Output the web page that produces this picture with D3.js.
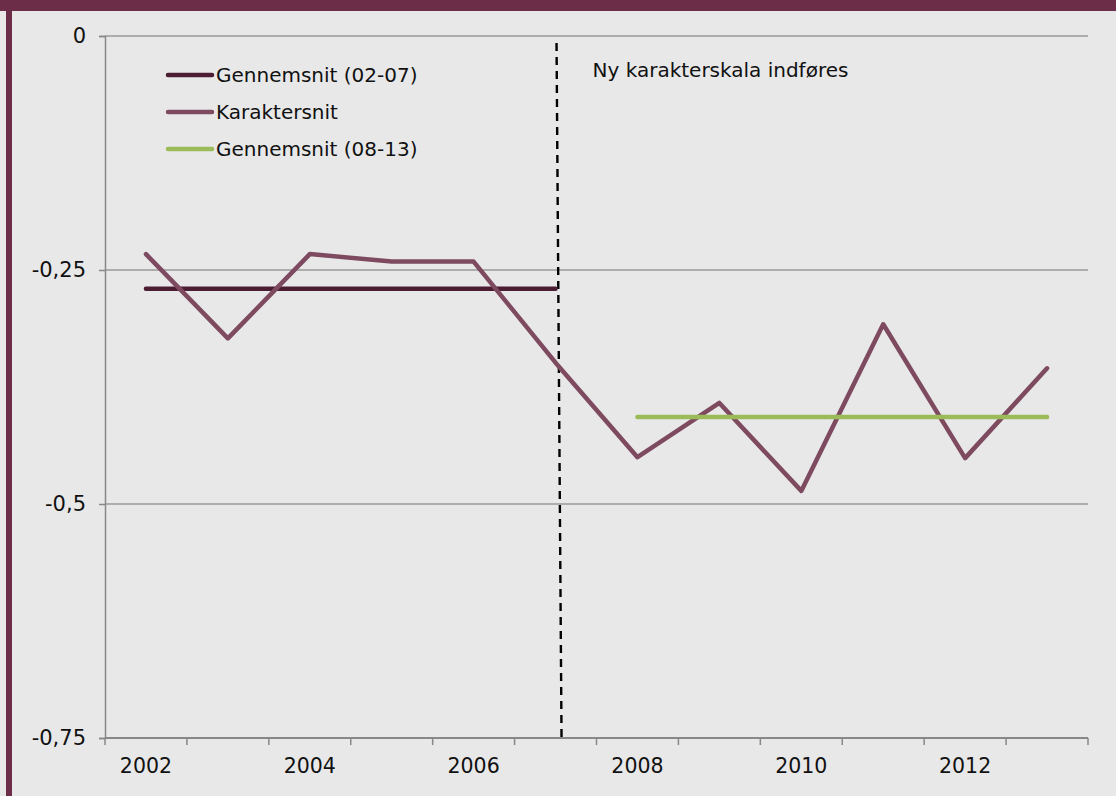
<!DOCTYPE html>
<html><head><meta charset="utf-8">
<script src="https://cdn.jsdelivr.net/npm/d3@7"></script>
<style>
html,body{margin:0;padding:0;background:#e8e8e8;}
svg{display:block;font-family:"DejaVu Sans",Verdana,sans-serif;}
</style></head>
<body><svg id="c" width="1116" height="796"></svg>
<script>
const years = [2002,2003,2004,2005,2006,2007,2008,2009,2010,2011,2012,2013];
const karaktersnit = [-0.233,-0.323,-0.233,-0.241,-0.241,-0.349,-0.450,-0.392,-0.486,-0.308,-0.451,-0.355];
const avgYears1 = [2002,2007];
const avg1 = -0.270;
const avgYears2 = [2008,2013];
const avg2 = -0.407;
const yTicks = [0,-0.25,-0.5,-0.75];
const xLabels = [2002,2004,2006,2008,2010,2012];
const seriesNames = ["Gennemsnit (02-07)","Karaktersnit","Gennemsnit (08-13)"];
const annotation = "Ny karakterskala indføres";
const dividerYear = 2007;

const colors = {avg1:"#4b1c32", kar:"#7e4a5f", avg2:"#9bbb59", frame:"#6b2d47"};
const svg = d3.select("#c");
const W=1116,H=796;
svg.append("rect").attr("width",W).attr("height",H).attr("fill","#e8e8e8");
svg.append("rect").attr("x",0).attr("y",0).attr("width",W).attr("height",11).attr("fill",colors.frame);
svg.append("rect").attr("x",6).attr("y",0).attr("width",6).attr("height",H).attr("fill",colors.frame);

const x = d3.scaleBand().domain(years).range([105,1088]).padding(0);
const cx = d => x(d)+x.bandwidth()/2;
const y = d3.scaleLinear().domain([-0.75,0]).range([738,36]);

// gridlines
svg.append("g").selectAll("line").data(yTicks.filter(t=>t!==-0.75)).join("line")
  .attr("x1",105).attr("x2",1088).attr("y1",d=>y(d)).attr("y2",d=>y(d))
  .attr("stroke","#9a9a9a").attr("stroke-width",1.5);

// y axis
const ya = svg.append("g").attr("transform","translate(105,0)")
  .call(d3.axisLeft(y).tickValues(yTicks).tickSize(6).tickPadding(13)
    .tickFormat(d=> d===0?"0":String(d).replace(".",",")));
ya.select(".domain").attr("stroke","#888").attr("stroke-width",1.5);
ya.selectAll(".tick line").attr("stroke","#888").attr("stroke-width",1.5);
ya.selectAll("text").attr("font-size",21).attr("fill","#111").attr("font-family","DejaVu Sans");

// x axis
const xa = svg.append("g").attr("transform","translate(0,738)");
xa.append("line").attr("x1",105).attr("x2",1088).attr("stroke","#888").attr("stroke-width",2);
const edges = years.map(d=>x(d)).concat([x(years[years.length-1])+x.bandwidth()]);
xa.selectAll("line.t").data(edges).join("line").attr("class","t")
  .attr("x1",d=>d).attr("x2",d=>d).attr("y1",0).attr("y2",7).attr("stroke","#888").attr("stroke-width",1.5);
xa.selectAll("text").data(xLabels).join("text")
  .attr("x",d=>cx(d)).attr("y",35).attr("text-anchor","middle")
  .attr("font-size",20.5).attr("fill","#111").text(d=>d);

// divider dashed line
const dx = cx(dividerYear);
svg.append("line").attr("x1",dx+1).attr("y1",y(0)+7).attr("x2",dx+6).attr("y2",y(-0.75))
  .attr("stroke","#000").attr("stroke-width",2.4).attr("stroke-dasharray","8,6");
svg.append("text").attr("x",dx+37).attr("y",77).attr("font-size",20).attr("fill","#111").text(annotation);

// average 02-07
svg.append("line").attr("x1",cx(avgYears1[0])).attr("x2",cx(avgYears1[1]))
  .attr("y1",y(avg1)).attr("y2",y(avg1)).attr("stroke",colors.avg1).attr("stroke-width",4.5).attr("stroke-linecap","round");
// karaktersnit
const line = d3.line().x((d,i)=>cx(years[i])).y(d=>y(d));
svg.append("path").datum(karaktersnit).attr("d",line).attr("fill","none")
  .attr("stroke",colors.kar).attr("stroke-width",4.5).attr("stroke-linejoin","round").attr("stroke-linecap","round");
// average 08-13
svg.append("line").attr("x1",cx(avgYears2[0])).attr("x2",cx(avgYears2[1]))
  .attr("y1",y(avg2)).attr("y2",y(avg2)).attr("stroke",colors.avg2).attr("stroke-width",4.5).attr("stroke-linecap","round");

// legend
const lg = svg.append("g");
const lc = [colors.avg1, colors.kar, colors.avg2];
seriesNames.forEach((n,i)=>{
  const yy = 75 + i*37;
  lg.append("line").attr("x1",168).attr("x2",212).attr("y1",yy).attr("y2",yy)
    .attr("stroke",lc[i]).attr("stroke-width",4.5).attr("stroke-linecap","round");
  lg.append("text").attr("x",216).attr("y",yy+7).attr("font-size",20).attr("fill","#111").text(n);
});
</script></body></html>
